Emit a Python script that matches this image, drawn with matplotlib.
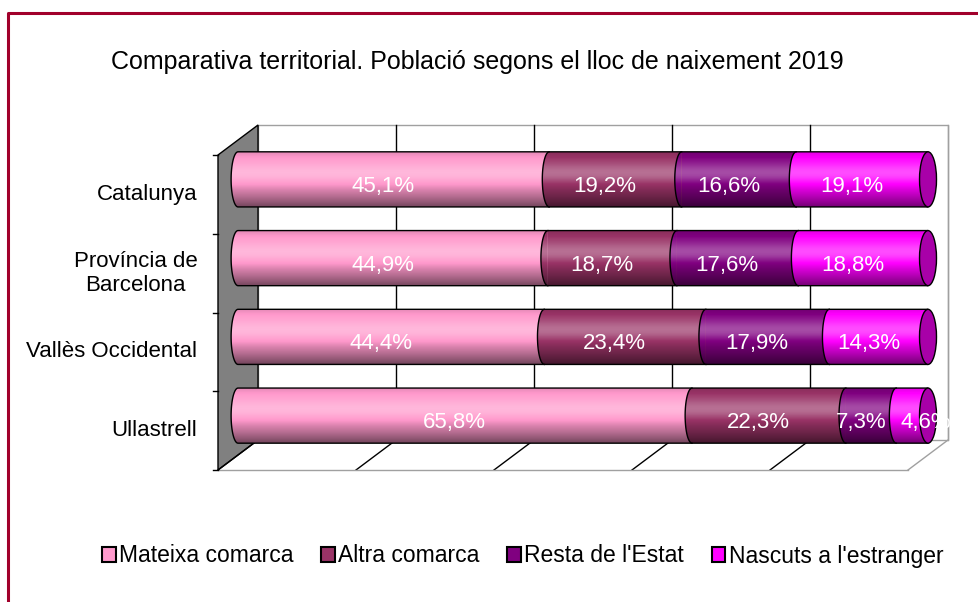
import numpy as np
import matplotlib.pyplot as plt
from matplotlib.patches import Ellipse, PathPatch, Patch
from matplotlib.path import Path
from matplotlib.lines import Line2D

plt.rcParams['font.family'] = ['Liberation Sans', 'DejaVu Sans']

#%% data
categories = ['Catalunya', 'Província de\nBarcelona', 'Vallès Occidental', 'Ullastrell']
series = ['Mateixa comarca', 'Altra comarca', "Resta de l'Estat", "Nascuts a l'estranger"]
mateixa = [45.1, 44.9, 44.4, 65.8]
altra = [19.2, 18.7, 23.4, 22.3]
resta = [16.6, 17.6, 17.9, 7.3]
estranger = [19.1, 18.8, 14.3, 4.6]
xticks = [0, 20, 40, 60, 80, 100]
title = 'Comparativa territorial. Població segons el lloc de naixement 2019'

colors = ['#FF99CC', '#993366', '#800080', '#FF00FF']
cap_color = '#A800A8'

#%% figure / axes (full figure, data units = percent and category)
fig = plt.figure(figsize=(9.79, 6.02), dpi=100)
ax = fig.add_axes([0, 0, 1, 1])
xlim = (-218 / 6.9, (979 - 218) / 6.9)
ylim = (-132 / 78.75, 470 / 78.75)
ax.axis('off')

DX, DY = 5.8, 0.381   # depth offset of the 3d box
n = len(categories)
ypos = np.arange(n)[::-1] + 0.5
top = n

# left wall
ax.fill([0, 0, DX, DX], [0, top, top + DY, DY], facecolor='#808080',
        edgecolor='black', lw=1, zorder=1)
for yt in range(n + 1):
    ax.plot([-0.75, 0], [yt, yt], color='black', lw=1, zorder=1)

# back wall + floor
ax.fill([DX, 100 + DX, 100 + DX, DX], [DY, DY, top + DY, top + DY],
        facecolor='white', edgecolor='#A0A0A0', lw=1, zorder=0.5)
for xv in xticks[1:]:
    c = 'black' if xv < 100 else '#A0A0A0'
    ax.plot([xv + DX, xv + DX], [DY, top + DY], color=c, lw=1, zorder=0.8)
    ax.plot([xv, xv + DX], [0, DY], color=c, lw=1, zorder=0.8)
ax.plot([0, 100], [0, 0], color='#A0A0A0', lw=1, zorder=0.8)
ax.plot([0, DX], [0, DY], color='black', lw=1, zorder=1.2)

# category labels
for i, cat in enumerate(categories):
    ax.text(-3.0, ypos[i], cat, ha='right', va='center', multialignment='center',
            fontsize=16, color='black')

# cylinder shading
N = 120
t = np.linspace(0, 1, N)
s = (0.30 * np.exp(-((t - 0.62) / 0.18) ** 2)
     - 0.55 * np.clip((0.55 - t) / 0.55, 0, 1) ** 1.5
     - 0.12 * np.clip((t - 0.85) / 0.15, 0, 1))
grad = np.zeros((N, 1, 4))
grad[:, 0, :3] = np.where(s[:, None] > 0, 1.0, 0.0)
grad[:, 0, 3] = np.abs(s)


def half_ellipse(xc, yc, a, b, npts=40):
    tt = np.linspace(np.pi / 2, 3 * np.pi / 2, npts)
    return xc + a * np.cos(tt), yc + b * np.sin(tt)


h = 0.70
a = 1.0
cap_a = 1.23
min_gap = 9.5   # min distance between label centres
data = np.array([mateixa, altra, resta, estranger]).T

for i in range(n):
    vals = data[i]
    yc = ypos[i] + DY / 2
    x0 = DX / 2
    lefts = x0 + np.cumsum(vals) - vals
    ax.barh(yc, vals, left=lefts, height=h, color=colors, edgecolor='none', zorder=3)
    for k in range(len(vals)):
        hx, hy = half_ellipse(lefts[k], yc, a, h / 2)
        ax.fill(hx, hy, color=colors[k], lw=0, zorder=3.1 + 0.01 * k)
        if k > 0:
            ax.plot(hx, hy, color='black', lw=1, zorder=5)
    hx, hy = half_ellipse(x0, yc, a, h / 2)
    verts = list(zip(hx, hy)) + [(x0 + 100, yc - h / 2), (x0 + 100, yc + h / 2), (hx[0], hy[0])]
    codes = [Path.MOVETO] + [Path.LINETO] * (len(verts) - 2) + [Path.CLOSEPOLY]
    outline = PathPatch(Path(verts, codes), facecolor='none', edgecolor='black', lw=1, zorder=5)
    ax.add_patch(outline)
    im = ax.imshow(grad, extent=[x0 - a, x0 + 100, yc - h / 2, yc + h / 2],
                   aspect='auto', origin='lower', zorder=4, interpolation='bilinear')
    im.set_clip_path(outline)
    prev = -1e9
    for k in range(len(vals)):
        lab = f'{vals[k]:.1f}'.replace('.', ',') + '%'
        xl = max(lefts[k] + vals[k] / 2 - 1.5, prev + min_gap)
        prev = xl
        ax.text(xl, yc - 0.09, lab, ha='center', va='center',
                color='white', fontsize=16, zorder=8)
    ax.add_patch(Ellipse((x0 + 100, yc), 2 * cap_a, h, facecolor=cap_color,
                         edgecolor='black', lw=1, zorder=7))

ax.set_xlim(*xlim)
ax.set_ylim(*ylim)

fig.text(0.4875, 1 - 62 / 602, title, ha='center', va='center', fontsize=18)

handles = [Patch(facecolor=c, edgecolor='black', lw=1.5) for c in colors]
fig.legend(handles, series, loc='center', bbox_to_anchor=(0.534, 1 - 556 / 602), ncol=4,
           frameon=False, fontsize=16.5, handlelength=0.6, handleheight=0.6,
           handletextpad=0.15, columnspacing=1.2)

fig.add_artist(Line2D([8 / 979, 8 / 979, 1], [0, 1 - 13 / 602, 1 - 13 / 602],
                      color='#A1002B', lw=2.2, transform=fig.transFigure))

fig.savefig('out.png', dpi=100)
